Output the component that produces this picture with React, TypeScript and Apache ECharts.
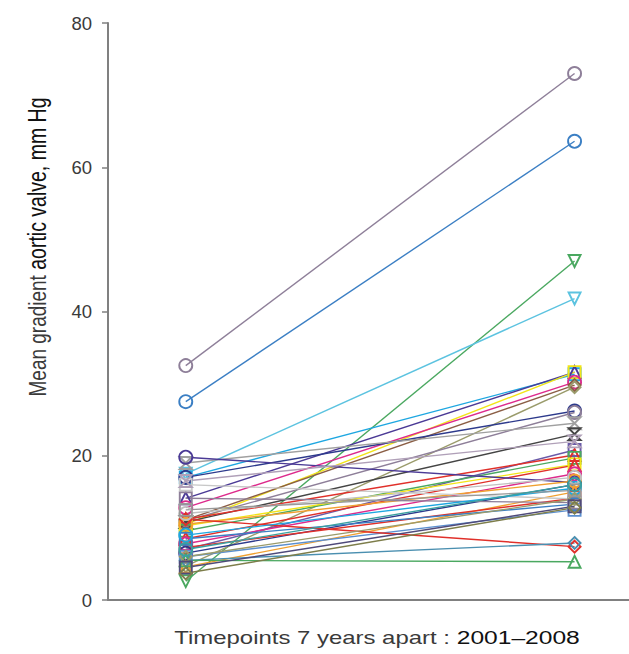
import React, { useEffect, useRef } from "react";
import * as echarts from "echarts";

// Each patient: colour, marker, value in 2001, value in 2008
const colors = [
  "#8e7f99", "#3b7fc4", "#4aa860", "#5cc3e0", "#1ea7e1", "#4b3a96", "#f2e418", "#dd2a8c",
  "#8b5e45", "#9a9b6b", "#2d3a8c", "#8e7f99", "#a0a0a0", "#444444", "#6a5aa8", "#e0302a",
  "#4aa860", "#f2e418", "#e0302a", "#dd2a8c", "#4b3a96", "#f0a030", "#2d3a8c", "#f0a030",
  "#e0302a", "#3b7fc4", "#5b8fcf", "#8e7f99", "#c8c8c8", "#e0302a", "#4a8fb0", "#4aa860",
  "#1ea7e1", "#9a9b6b", "#4f4a7a", "#c0c0c0", "#b0a0b8", "#999999", "#3aa0a0", "#7d7d4a"
];
const markers = [
  "circle", "circle", "tdown", "tdown", "rect", "triangle", "rect", "circle",
  "diamond", "diamond", "circle", "circle", "hour", "hour", "rect", "triangle",
  "rect", "rect", "triangle", "circle", "circle", "circle", "circle", "triangle",
  "rect", "rect", "rect", "rect", "rect", "diamond", "diamond", "triangle",
  "circle", "diamond", "rect", "circle", "hour", "rect", "circle", "diamond"
];
const start2001 = [
  32.5, 27.5, 2.6, 17.5, 17.0, 14.1, 10.5, 12.8,
  11.1, 4.7, 17.0, 11.0, 19.0, 10.8, 7.0, 11.2,
  9.6, 10.3, 8.5, 7.8, 19.8, 10.5, 6.5, 4.6,
  7.3, 8.5, 6.0, 14.1, 16.0, 11.2, 5.5, 5.5,
  9.0, 6.0, 4.5, 12.0, 16.5, 12.5, 7.0, 3.7
];
const end2008 = [
  73.0, 63.6, 47.0, 41.8, 31.3, 31.6, 31.6, 30.2,
  29.8, 29.5, 26.2, 26.0, 24.5, 23.0, 20.8, 20.1,
  19.7, 18.8, 18.7, 17.5, 16.3, 16.5, 16.0, 15.0,
  14.1, 13.3, 12.5, 13.5, 14.0, 7.4, 7.9, 5.3,
  15.5, 14.0, 13.0, 17.0, 22.0, 15.2, 16.0, 12.8
];
const yTicks = [0, 20, 40, 60, 80];
const yTitleA = "Mean gradient ";
const yTitleB = "aortic valve, mm Hg";
const xTitleA = "Timepoints 7 years apart : ";
const xTitleB = "2001–2008";

const symbolMap: Record<string, string> = {
  circle: "circle",
  rect: "rect",
  triangle: "triangle",
  diamond: "diamond",
  tdown: "path://M0,0L10,0L5,9Z",
  hour: "path://M0,0L10,0L0,10L10,10Z",
};

const FONT = "Liberation Sans, Arial, sans-serif";

export default function App() {
  const ref = useRef<HTMLDivElement>(null);
  useEffect(() => {
    if (!ref.current) return;
    const chart = echarts.init(ref.current, null, { renderer: "svg" });
    const series = start2001.map((v0, i) => ({
      type: "line",
      data: [[0, v0], [1, end2008[i]]],
      symbol: symbolMap[markers[i]],
      symbolSize: markers[i] === "circle" ? 13 : 12,
      lineStyle: { color: colors[i], width: 1.4 },
      itemStyle: { color: "rgba(255,255,255,0)", borderColor: colors[i], borderWidth: 1.9 },
      emphasis: { disabled: true },
      z: 2,
    }));
    chart.setOption({
      animation: false,
      grid: { left: 108, top: 23, right: 0, bottom: 54, containLabel: false },
      xAxis: {
        type: "value",
        min: -0.2,
        max: 1.14,
        axisLine: { show: true, onZero: false, lineStyle: { color: "#808080", width: 2 } },
        axisTick: { show: false },
        axisLabel: { show: false },
        splitLine: { show: false },
      },
      yAxis: {
        type: "value",
        min: yTicks[0],
        max: yTicks[yTicks.length - 1],
        interval: 20,
        axisLine: { show: true, onZero: false, lineStyle: { color: "#808080", width: 2 } },
        axisTick: { show: true, length: 6, lineStyle: { color: "#808080", width: 1.5 } },
        axisLabel: {
          fontSize: 18.5,
          fontFamily: FONT,
          color: "#3a3a3a",
          margin: 16,
        },
        splitLine: { show: false },
      },
      graphic: [
        {
          type: "text",
          x: 38,
          y: 247,
          rotation: Math.PI / 2,
          scaleY: 1.3,
          style: {
            text: `{a|${yTitleA}}{b|${yTitleB}}`,
            align: "center",
            verticalAlign: "middle",
            rich: {
              a: { fontSize: 19, fontFamily: FONT, fill: "#3a3a3a" },
              b: { fontSize: 19.5, fontFamily: FONT, fill: "#111111" },
            },
          },
        },
        {
          type: "text",
          x: 377,
          y: 638,
          scaleX: 1.33,
          style: {
            text: `{a|${xTitleA}}{b|${xTitleB}}`,
            align: "center",
            verticalAlign: "middle",
            rich: {
              a: { fontSize: 18, fontFamily: FONT, fill: "#3a3a3a" },
              b: { fontSize: 18.5, fontFamily: FONT, fill: "#111111" },
            },
          },
        },
      ],
      series,
    });
    return () => chart.dispose();
  }, []);
  return <div ref={ref} style={{ width: 629, height: 654, position: "absolute", left: 0, top: 0 }} />;
}
